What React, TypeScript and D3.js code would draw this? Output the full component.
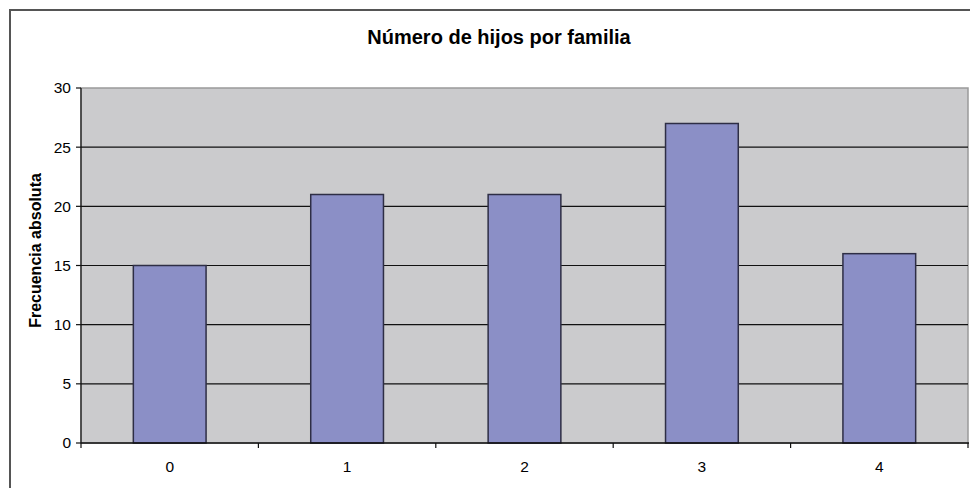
import React from "react";
import * as d3 from "d3";

const categories = ["0", "1", "2", "3", "4"];
const values = [15, 21, 21, 27, 16];
const yTicks = [0, 5, 10, 15, 20, 25, 30];
const title = "Número de hijos por familia";
const yLabel = "Frecuencia absoluta";

export default function App() {
  const W = 970, H = 488;
  const left = 81, right = 968, top = 88, bottom = 443;
  const x = d3.scaleBand<string>().domain(categories).range([left, right]).paddingInner(0).paddingOuter(0);
  const y = d3.scaleLinear().domain([0, 30]).range([bottom, top]);
  const bw = x.bandwidth() * 0.41;
  const font = "Liberation Sans, Arial, sans-serif";
  return (
    <svg width={W} height={H} style={{ position: "absolute", left: 0, top: 0, background: "#fff" }} fontFamily={font}>
      <rect x={10} y={10} width={W + 10} height={H + 10} fill="#fff" stroke="#555" strokeWidth={2} />
      <text x={499} y={44} textAnchor="middle" fontSize={20} fontWeight="bold" fill="#000">{title}</text>
      <rect x={left} y={top} width={right - left} height={bottom - top} fill="#cbcbcd" stroke="#9a9a9a" strokeWidth={1.5} />
      {yTicks.filter(t => t > 0 && t < 30).map(t => (
        <line key={t} x1={left} x2={right} y1={y(t)} y2={y(t)} stroke="#111" strokeWidth={1.2} />
      ))}
      {categories.map((c, i) => {
        const cx = x(c)! + x.bandwidth() / 2;
        return (
          <rect key={c} x={cx - bw / 2} y={y(values[i])} width={bw} height={bottom - y(values[i])}
            fill="#8b8fc6" stroke="#2e2e45" strokeWidth={1.5} />
        );
      })}
      <line x1={left} x2={left} y1={top} y2={bottom} stroke="#111" strokeWidth={1.2} />
      <line x1={left} x2={right + 1} y1={bottom} y2={bottom} stroke="#111" strokeWidth={1.5} />
      {yTicks.map(t => (
        <g key={t}>
          <line x1={left - 5} x2={left} y1={y(t)} y2={y(t)} stroke="#111" strokeWidth={1.2} />
          <text x={left - 10} y={y(t)} dy="0.35em" textAnchor="end" fontSize={15.5} fill="#000">{t}</text>
        </g>
      ))}
      {categories.map((c, i) => (
        <line key={"t" + c} x1={x(c)! + x.bandwidth()} x2={x(c)! + x.bandwidth()} y1={bottom} y2={bottom + 5} stroke="#111" strokeWidth={1.2} />
      ))}
      <line x1={left} x2={left} y1={bottom} y2={bottom + 5} stroke="#111" strokeWidth={1.2} />
      {categories.map(c => (
        <text key={"l" + c} x={x(c)! + x.bandwidth() / 2} y={472} textAnchor="middle" fontSize={15.5} fill="#000">{c}</text>
      ))}
      <text transform={`translate(41,${(top + bottom) / 2 - 15}) rotate(-90)`} textAnchor="middle" fontSize={16} fontWeight="bold" fill="#000">{yLabel}</text>
    </svg>
  );
}
